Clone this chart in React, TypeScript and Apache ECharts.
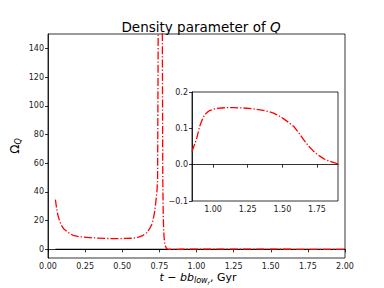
import React, { useEffect, useRef } from "react";
import * as echarts from "echarts";

// Main curve: Omega_Q vs t (Gyr), before the inset region
const spikeT = [0.05, 0.058, 0.067, 0.078, 0.09, 0.105, 0.124, 0.145, 0.168, 0.2, 0.24, 0.281, 0.33, 0.393, 0.45, 0.52, 0.572, 0.61, 0.64, 0.665, 0.685, 0.697, 0.707, 0.717, 0.725, 0.73, 0.734, 0.738, 0.742, 0.746, 0.755, 0.764, 0.768, 0.770, 0.773, 0.776, 0.779, 0.782, 0.786, 0.79, 0.797, 0.805, 0.815, 0.83];
const spikeOmega = [34.7, 28.5, 23.8, 19.8, 16.8, 14.4, 12.8, 11.2, 9.8, 9.0, 8.5, 8.2, 7.9, 7.6, 7.5, 7.6, 7.8, 8.5, 9.8, 11.6, 14.5, 17, 20.3, 25.5, 32, 37, 41, 48, 150, 260, 600, 260, 190, 150, 48, 25, 13, 8, 4.5, 2.5, 0.8, 0.25, 0.08, 0.05];

// Inset region (same curve, zoomed)
const insetT = [0.848, 0.863, 0.879, 0.891, 0.903, 0.92, 0.939, 0.957, 0.976, 1.0, 1.024, 1.06, 1.097, 1.15, 1.218, 1.28, 1.34, 1.39, 1.437, 1.475, 1.51, 1.547, 1.583, 1.62, 1.655, 1.69, 1.728, 1.765, 1.801, 1.83, 1.862, 1.885, 1.905, 1.95, 2.0];
const insetOmega = [0.036, 0.052, 0.068, 0.086, 0.105, 0.122, 0.137, 0.144, 0.149, 0.152, 0.155, 0.156, 0.157, 0.157, 0.156, 0.154, 0.151, 0.147, 0.142, 0.135, 0.126, 0.116, 0.105, 0.087, 0.068, 0.051, 0.036, 0.025, 0.016, 0.011, 0.007, 0.004, 0.002, 0.001, 0.0005];

// Reference line (zero)
const zeroT = [0.05, 2.0];
const zeroOmega = [0, 0];

const xTicks = [0, 0.25, 0.5, 0.75, 1.0, 1.25, 1.5, 1.75, 2.0];
const yTicks = [0, 20, 40, 60, 80, 100, 120, 140];
const insetXTicks = [1.0, 1.25, 1.5, 1.75];

const FONT = "DejaVu Sans";
const RED_DASH = [8, 2, 1.3, 2];

export default function App() {
  const ref = useRef<HTMLDivElement>(null);
  useEffect(() => {
    if (!ref.current) return;
    const chart = echarts.init(ref.current, undefined, { renderer: "svg" });
    const mainData = spikeT.map((t, i) => [t, spikeOmega[i]]).concat(insetT.map((t, i) => [t, insetOmega[i]]));
    const insetData = insetT.map((t, i) => [t, insetOmega[i]]);
    const zeroData = zeroT.map((t, i) => [t, zeroOmega[i]]);
    const axisLine = { show: true, lineStyle: { color: "#000", width: 0.8 } };
    const axisTick = { show: true, inside: false, length: 3, lineStyle: { color: "#000", width: 0.8 } };
    const labelStyle = { fontFamily: FONT, fontSize: 8, color: "#222", margin: 4 };
    const minus = (s: string) => s.replace("-", "\u2212");
    chart.setOption({
      animation: false,
      backgroundColor: "#fff",
      title: {
        text: "Density parameter of {i|Q}",
        left: 196,
        top: 15,
        textAlign: "center",
        textStyle: {
          fontFamily: FONT,
          fontSize: 13.5,
          fontWeight: "normal",
          color: "#000",
          rich: { i: { fontFamily: FONT, fontSize: 13.5, fontStyle: "italic", color: "#000" } },
        },
      },
      grid: [
        { left: 48, top: 34, width: 297, height: 224, show: true, borderColor: "#000", borderWidth: 0.8, backgroundColor: "transparent" },
        { left: 192, top: 92, width: 146, height: 109, show: true, borderColor: "#000", borderWidth: 0.8, backgroundColor: "#fff", z: 5 },
      ],
      xAxis: [
        {
          type: "value", gridIndex: 0, min: 0, max: 2, interval: 0.25,
          axisLine, axisTick, splitLine: { show: false },
          axisLabel: { ...labelStyle, formatter: (v: number) => v.toFixed(2), showMinLabel: true, showMaxLabel: true },
        },
        {
          type: "value", gridIndex: 1, min: 0.848, max: 1.902,
          axisLine, splitLine: { show: false },
          axisTick: { ...axisTick, customValues: insetXTicks },
          axisLabel: { ...labelStyle, customValues: insetXTicks, formatter: (v: number) => v.toFixed(2) },
          z: 6,
        },
      ],
      yAxis: [
        {
          type: "value", gridIndex: 0, min: -6, max: 150,
          axisLine, splitLine: { show: false },
          axisTick: { ...axisTick, customValues: yTicks },
          axisLabel: { ...labelStyle, customValues: yTicks, formatter: (v: number) => String(v) },
        },
        {
          type: "value", gridIndex: 1, min: -0.1, max: 0.2, interval: 0.1,
          axisLine, axisTick, splitLine: { show: false },
          axisLabel: { ...labelStyle, formatter: (v: number) => minus(v.toFixed(1)) },
          z: 6,
        },
      ],
      series: [
        {
          type: "line", xAxisIndex: 0, yAxisIndex: 0, data: zeroData, showSymbol: false, symbol: "none",
          lineStyle: { color: "#000", width: 1.3 }, z: 2, clip: true,
        },
        {
          type: "line", xAxisIndex: 0, yAxisIndex: 0, data: mainData, showSymbol: false, symbol: "none",
          lineStyle: { color: "#ff0000", width: 1.3, type: RED_DASH }, z: 3, clip: true,
        },
        {
          type: "line", xAxisIndex: 1, yAxisIndex: 1, data: insetData, showSymbol: false, symbol: "none",
          lineStyle: { color: "#ff0000", width: 1.3, type: RED_DASH }, z: 7, clip: true,
        },
      ],
      graphic: [
        {
          type: "text",
          x: 198,
          y: 277,
          style: {
            text: "{i|t \u2212 bb}{s|low}{ss|r}{n|, Gyr}",
            align: "center",
            verticalAlign: "middle",
            rich: {
              i: { fontFamily: FONT, fontSize: 11, fontStyle: "italic", fill: "#000" },
              s: { fontFamily: FONT, fontSize: 8, fontStyle: "italic", fill: "#000", padding: [6, 0, 0, 0] },
              ss: { fontFamily: FONT, fontSize: 6, fontStyle: "italic", fill: "#000", padding: [10, 0, 0, 0] },
              n: { fontFamily: FONT, fontSize: 11, fill: "#000" },
            },
          },
        },
        {
          type: "text",
          x: 15,
          y: 146,
          rotation: Math.PI / 2,
          style: {
            text: "{a|\u03A9}{b|Q}",
            align: "center",
            verticalAlign: "middle",
            rich: {
              a: { fontFamily: FONT, fontSize: 12, fill: "#000" },
              b: { fontFamily: FONT, fontSize: 8, fontStyle: "italic", fill: "#000", padding: [6, 0, 0, 0] },
            },
          },
        },
      ],
    });
    return () => chart.dispose();
  }, []);
  return <div ref={ref} style={{ position: "fixed", left: 0, top: 0, width: 384, height: 288 }} />;
}
